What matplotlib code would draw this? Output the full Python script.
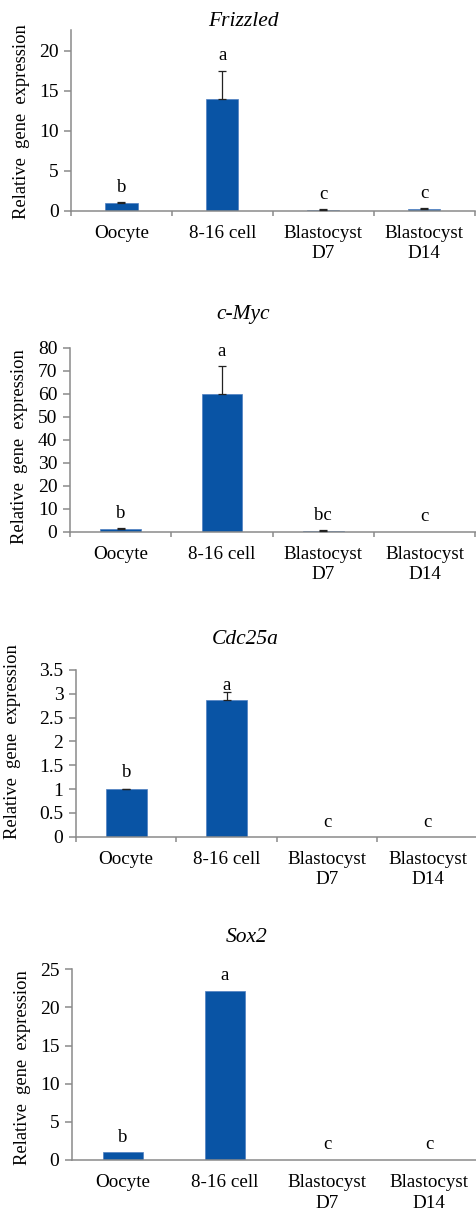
import numpy as np
import matplotlib.pyplot as plt
from matplotlib.ticker import FormatStrFormatter, MultipleLocator

plt.rcParams['font.family'] = ['Liberation Serif', 'DejaVu Serif']

# expression data (mean, upper error, significance letters)
stages = ['Oocyte', '8-16 cell', 'Blastocyst\nD7', 'Blastocyst\nD14']

frizzled_mean = [1.0, 14.0, 0.15, 0.25]
frizzled_err = [0.05, 3.5, 0.05, 0.08]
frizzled_letters = ['b', 'a', 'c', 'c']

cmyc_mean = [1.0, 60.0, 0.4, 0.05]
cmyc_err = [0.4, 12.0, 0.3, 0.0]
cmyc_letters = ['b', 'a', 'bc', 'c']

cdc25a_mean = [1.0, 2.88, 0.002, 0.001]
cdc25a_err = [0.01, 0.15, 0.0, 0.0]
cdc25a_letters = ['b', 'a', 'c', 'c']

sox2_mean = [1.0, 22.2, 0.05, 0.05]
sox2_err = [0.0, 0.0, 0.0, 0.0]
sox2_letters = ['b', 'a', 'c', 'c']

W, H = 477, 1209
fig = plt.figure(figsize=(W / 100, H / 100), dpi=100)

BAR = '#0954a5'
AXC = '#8a8a8a'
PX = 72 / 100  # points per pixel


def axes_px(left, right, top, bottom):
    return fig.add_axes([left / W, 1 - bottom / H, (right - left) / W, (bottom - top) / H])


def panel(box, cat_px, title, title_xy, ylab_xy, mean, err, letters, ymax, step,
          bar_w, separators=True, letter_off=None):
    ax = axes_px(*box)
    x = np.arange(len(stages))
    mean = np.asarray(mean)
    err = np.asarray(err)
    ax.bar(x, mean, width=bar_w, color=BAR, edgecolor='#4f7fc0', linewidth=0.5, zorder=2)
    has = err > 0
    if has.any():
        ax.errorbar(x[has], mean[has], yerr=[np.zeros(has.sum()), err[has]], fmt='none',
                    ecolor='#222222', elinewidth=0.9, capsize=3, capthick=0.9, zorder=3)
    if letter_off is None:
        letter_off = [15] * len(letters)
    for i, (m, e, s) in enumerate(zip(mean, err, letters)):
        ax.annotate(s, (i, m + e), xytext=(0, letter_off[i] * PX), textcoords='offset points',
                    ha='center', va='center', fontsize=13.5)
    right = -0.5 + (box[1] - box[0]) / cat_px
    ax.set_xlim(-0.5, right)
    ax.set_ylim(0, ymax)
    ax.yaxis.set_major_locator(MultipleLocator(step))
    ax.yaxis.set_major_formatter(FormatStrFormatter('%g'))
    ax.set_xticks(x)
    ax.set_xticklabels(stages, fontsize=13.7, linespacing=1.3)
    ax.tick_params(axis='x', length=0, pad=10)
    if separators:
        ax.set_xticks(np.arange(-0.5, 3.6, 1.0), minor=True)
        ax.tick_params(axis='x', which='minor', length=5 * PX, width=1.1,
                       color=AXC, direction='out')
    ax.tick_params(axis='y', length=5, width=1.1, color=AXC, pad=4, labelsize=14)
    for side in ('top', 'right'):
        ax.spines[side].set_visible(False)
    for side in ('left', 'bottom'):
        ax.spines[side].set_color(AXC)
        ax.spines[side].set_linewidth(1.1)
    ax.set_facecolor('none')
    fig.text(title_xy[0] / W, 1 - title_xy[1] / H, title, ha='center', va='center',
             fontsize=15.5, fontstyle='italic')
    fig.text(ylab_xy[0] / W, 1 - ylab_xy[1] / H, 'Relative  gene  expression', rotation=90,
             ha='center', va='center', fontsize=13.3)
    return ax


panel((71, 474.5, 30, 210.7), 101, 'Frizzled', (243, 22), (22, 122),
      frizzled_mean, frizzled_err, frizzled_letters, 22.6, 5, 0.32)
panel((70, 476, 347.7, 531.7), 101.3, 'c-Myc', (243, 315), (20, 447),
      cmyc_mean, cmyc_err, cmyc_letters, 80, 10, 0.40)
panel((76, 478, 670, 836.7), 100.7, 'Cdc25a', (245, 640), (13, 742),
      cdc25a_mean, cdc25a_err, cdc25a_letters, 3.5, 0.5, 0.41, letter_off=[16, 7, 14, 14])
panel((72, 477, 969.3, 1160), 102, 'Sox2', (247, 937), (23, 1068),
      sox2_mean, sox2_err, sox2_letters, 25, 5, 0.40, separators=False)

fig.savefig('out.png', dpi=100)
